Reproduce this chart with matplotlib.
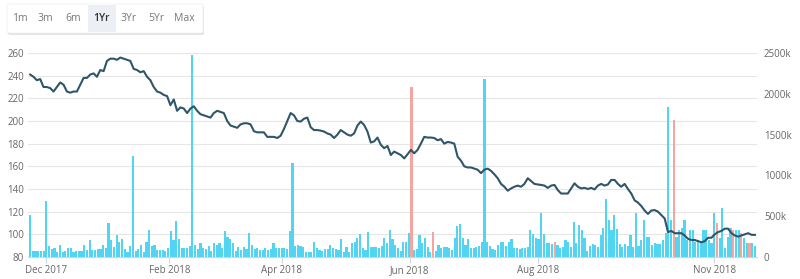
import numpy as np
import matplotlib
matplotlib.use("Agg")
import matplotlib.pyplot as plt
from matplotlib.patches import FancyBboxPatch

plt.rcParams['font.family'] = ['Open Sans', 'DejaVu Sans']

# volume in thousands, one value per trading day
vol_dec_mar = [514, 70, 70, 70, 70, 70, 681, 139, 97, 111, 56, 153, 56, 70, 111, 111, 56,
               70, 70, 70, 153, 83, 208, 83, 83, 97, 97, 153, 111, 417, 208, 125, 264, 181,
               222, 97, 56, 139, 1237, 70, 97, 153, 56, 181, 334, 139, 153, 83, 83, 83, 70,
               111, 320, 208, 445, 222, 111, 111, 111, 139, 2474, 153, 97, 167, 111, 97, 139,
               70, 167, 153, 167, 111, 320, 250, 222, 167, 70, 125, 83, 125, 97, 292, 153,
               97, 111, 83, 83, 111, 83]
vol_mar_jul = [97, 167, 111, 111, 111, 111, 97, 320, 1154, 139, 153, 139, 125, 56, 56, 56,
               181, 111, 83, 70, 97, 97, 153, 111, 97, 83, 222, 56, 125, 56, 167, 181,
               236, 278, 111, 83, 306, 125, 125, 125, 111, 139, 236, 167, 334, 222, 153, 111,
               70, 181, 181, 292, 2085, 83, 97, 264, 167, 236, 125, 56, 306, 70, 153, 111, 125,
               125, 111, 83, 236, 375, 403, 236, 153, 222, 111, 111, 125, 139, 181, 2182, 181,
               139, 97, 83, 153, 181, 181, 139, 181, 222, 111, 111, 97, 111]
vol_aug_nov = [106, 127, 331, 278, 229, 221, 543, 278, 176, 167, 159, 188, 150, 111, 127, 208,
               188, 127, 429, 167, 388, 331, 229, 78, 135, 155, 143, 127, 270, 351, 706, 453,
               331, 515, 343, 159, 127, 159, 135, 270, 127, 543, 139, 208, 453, 249, 249, 147,
               172, 159, 155, 208, 290, 1841, 453, 1678, 240, 331, 359, 453, 208, 331, 331,
               188, 208, 188, 331, 331, 208, 167, 543, 417, 229, 596, 106, 249, 359, 330, 331,
               331, 290, 229, 167, 167, 167, 135]
down_days = [141, 149, 194, 238, 254, 260, 263, 266]

# closing price, read at even steps along the line
price_dec_mar = [241, 239, 236, 237, 230, 230, 229, 226, 230, 234, 232, 226, 225, 226, 226,
                 232, 238, 238, 241, 242, 239, 245, 244, 253, 255, 255, 254, 256, 255, 254,
                 253, 246, 245, 243, 244, 239, 236, 230, 226, 225, 223, 222, 214, 219, 209,
                 212, 211, 207, 211, 213, 209, 206, 205, 204, 203, 207, 209, 208, 207, 200,
                 196, 195, 194, 197, 198, 198, 197, 191, 190, 190, 190, 186]
price_mar_jul = [186, 186, 185, 187, 193, 200, 207, 205, 200, 199.5, 202, 203, 194.5, 192,
                 192, 191.5, 190.7, 189, 188, 185, 188, 192, 190, 188, 187, 189, 196, 199.5,
                 196.5, 190.7, 181, 182, 185.4, 179, 176, 178, 170, 173, 171.5, 170, 167,
                 170.6, 174.5, 171.5, 174.5, 180, 186, 185.4, 185.4, 185, 183, 184, 180,
                 181.5, 181, 180, 168.5, 165, 160, 159, 159, 158, 157, 154, 157, 158, 156,
                 153, 149.5, 144.5, 142, 138.5, 140.5, 142, 143, 142]
price_aug_nov = [144.5, 149.5, 147, 144.5, 144, 143.6, 143, 141, 143, 143.6, 139, 136, 136,
                 136, 140.5, 145, 142, 140.5, 141, 140, 141, 139.6, 143, 144.5, 143, 144, 148,
                 148, 144.5, 142, 144.5, 140, 136, 130, 128, 125, 121, 118, 121, 121.4, 120,
                 117, 114, 102, 103, 101, 101, 101, 99, 96, 95, 95, 94, 93, 94, 97, 97, 100,
                 102, 103, 105, 105, 101, 99, 98, 99, 100, 101, 99.6, 99.5]

tick_pos = [6, 51.5, 93, 140.4, 187.8, 253]
tick_labels = ['Dec 2017', 'Feb 2018', 'Apr 2018', 'Jun 2018', 'Aug 2018', 'Nov 2018']
left_ticks = list(range(80, 261, 20))
right_ticks = [0, 500, 1000, 1500, 2000, 2500]
buttons = ['1m', '3m', '6m', '1Yr', '3Yr', '5Yr', 'Max']
active = '1Yr'

volume = np.array(vol_dec_mar + vol_mar_jul + vol_aug_nov)
price = np.array(price_dec_mar + price_mar_jul + price_aug_nov)
n = len(volume)
xb = np.arange(n)
xp = np.linspace(0, n - 1, len(price))
colors = ['#f4a59f' if i in down_days else '#52d5f3' for i in range(n)]

fig = plt.figure(figsize=(8, 2.79), dpi=100)
W, H = 800, 279
rect = [28 / W, 22 / H, (757 - 28) / W, (257 - 53) / H]

ax1 = fig.add_axes(rect)
ax1.set_ylim(80, 260)
ax1.set_xlim(-0.8, n - 0.2)
ax1.set_yticks(left_ticks)
ax1.grid(axis='y', color='#e6e6e6', linewidth=0.8)
ax1.set_axisbelow(True)
for s in ax1.spines.values():
    s.set_visible(False)
ax1.spines['bottom'].set_visible(True)
ax1.spines['bottom'].set_color('#ccd6eb')
ax1.tick_params(axis='y', length=0, pad=3, labelsize=7, labelcolor='#666666')
ax1.set_xticks(tick_pos)
ax1.set_xticklabels(tick_labels)
ax1.tick_params(axis='x', length=4, color='#ccd6eb', pad=2, labelsize=7, labelcolor='#666666')

ax2 = ax1.twinx()
ax2.bar(xb, volume, width=0.8, color=colors, linewidth=0)
ax2.set_ylim(0, 2500)
ax2.set_yticks(right_ticks)
ax2.set_yticklabels(['0'] + [f'{t}k' for t in right_ticks[1:]])
ax2.tick_params(axis='y', length=0, pad=5, labelsize=7, labelcolor='#666666')
for s in ax2.spines.values():
    s.set_visible(False)

ax3 = ax1.twinx()
ax3.plot(xp, price, color='#2f5668', linewidth=1.5, solid_joinstyle='round')
ax3.set_ylim(80, 260)
ax3.set_yticks([])
for s in ax3.spines.values():
    s.set_visible(False)

# range selector buttons
def fx(px):
    return px / W

def fy(py):
    return 1 - py / H

shadow = FancyBboxPatch((fx(8), fy(35)), fx(196), 29 / H, boxstyle='round,pad=0,rounding_size=0.004',
                        transform=fig.transFigure, facecolor='#e4e4e4', edgecolor='none', zorder=1)
box = FancyBboxPatch((fx(7), fy(33)), fx(196), 29 / H, boxstyle='round,pad=0,rounding_size=0.004',
                     transform=fig.transFigure, facecolor='white', edgecolor='#f0f0f0',
                     linewidth=0.5, zorder=2)
fig.patches.extend([shadow, box])
hl = plt.Rectangle((fx(88), fy(32)), fx(28), 27 / H, transform=fig.transFigure,
                   facecolor='#eceff4', edgecolor='none', zorder=3)
fig.patches.append(hl)

bx = [20, 45, 73, 101, 129, 156, 184]
for label, x in zip(buttons, bx):
    is_on = label == active
    fig.text(fx(x), fy(18.5), label, ha='center', va='center', fontsize=7.5,
             color='#333333' if is_on else '#777777',
             fontweight='semibold' if is_on else 'normal', zorder=4)

fig.savefig('out.png', dpi=100)
